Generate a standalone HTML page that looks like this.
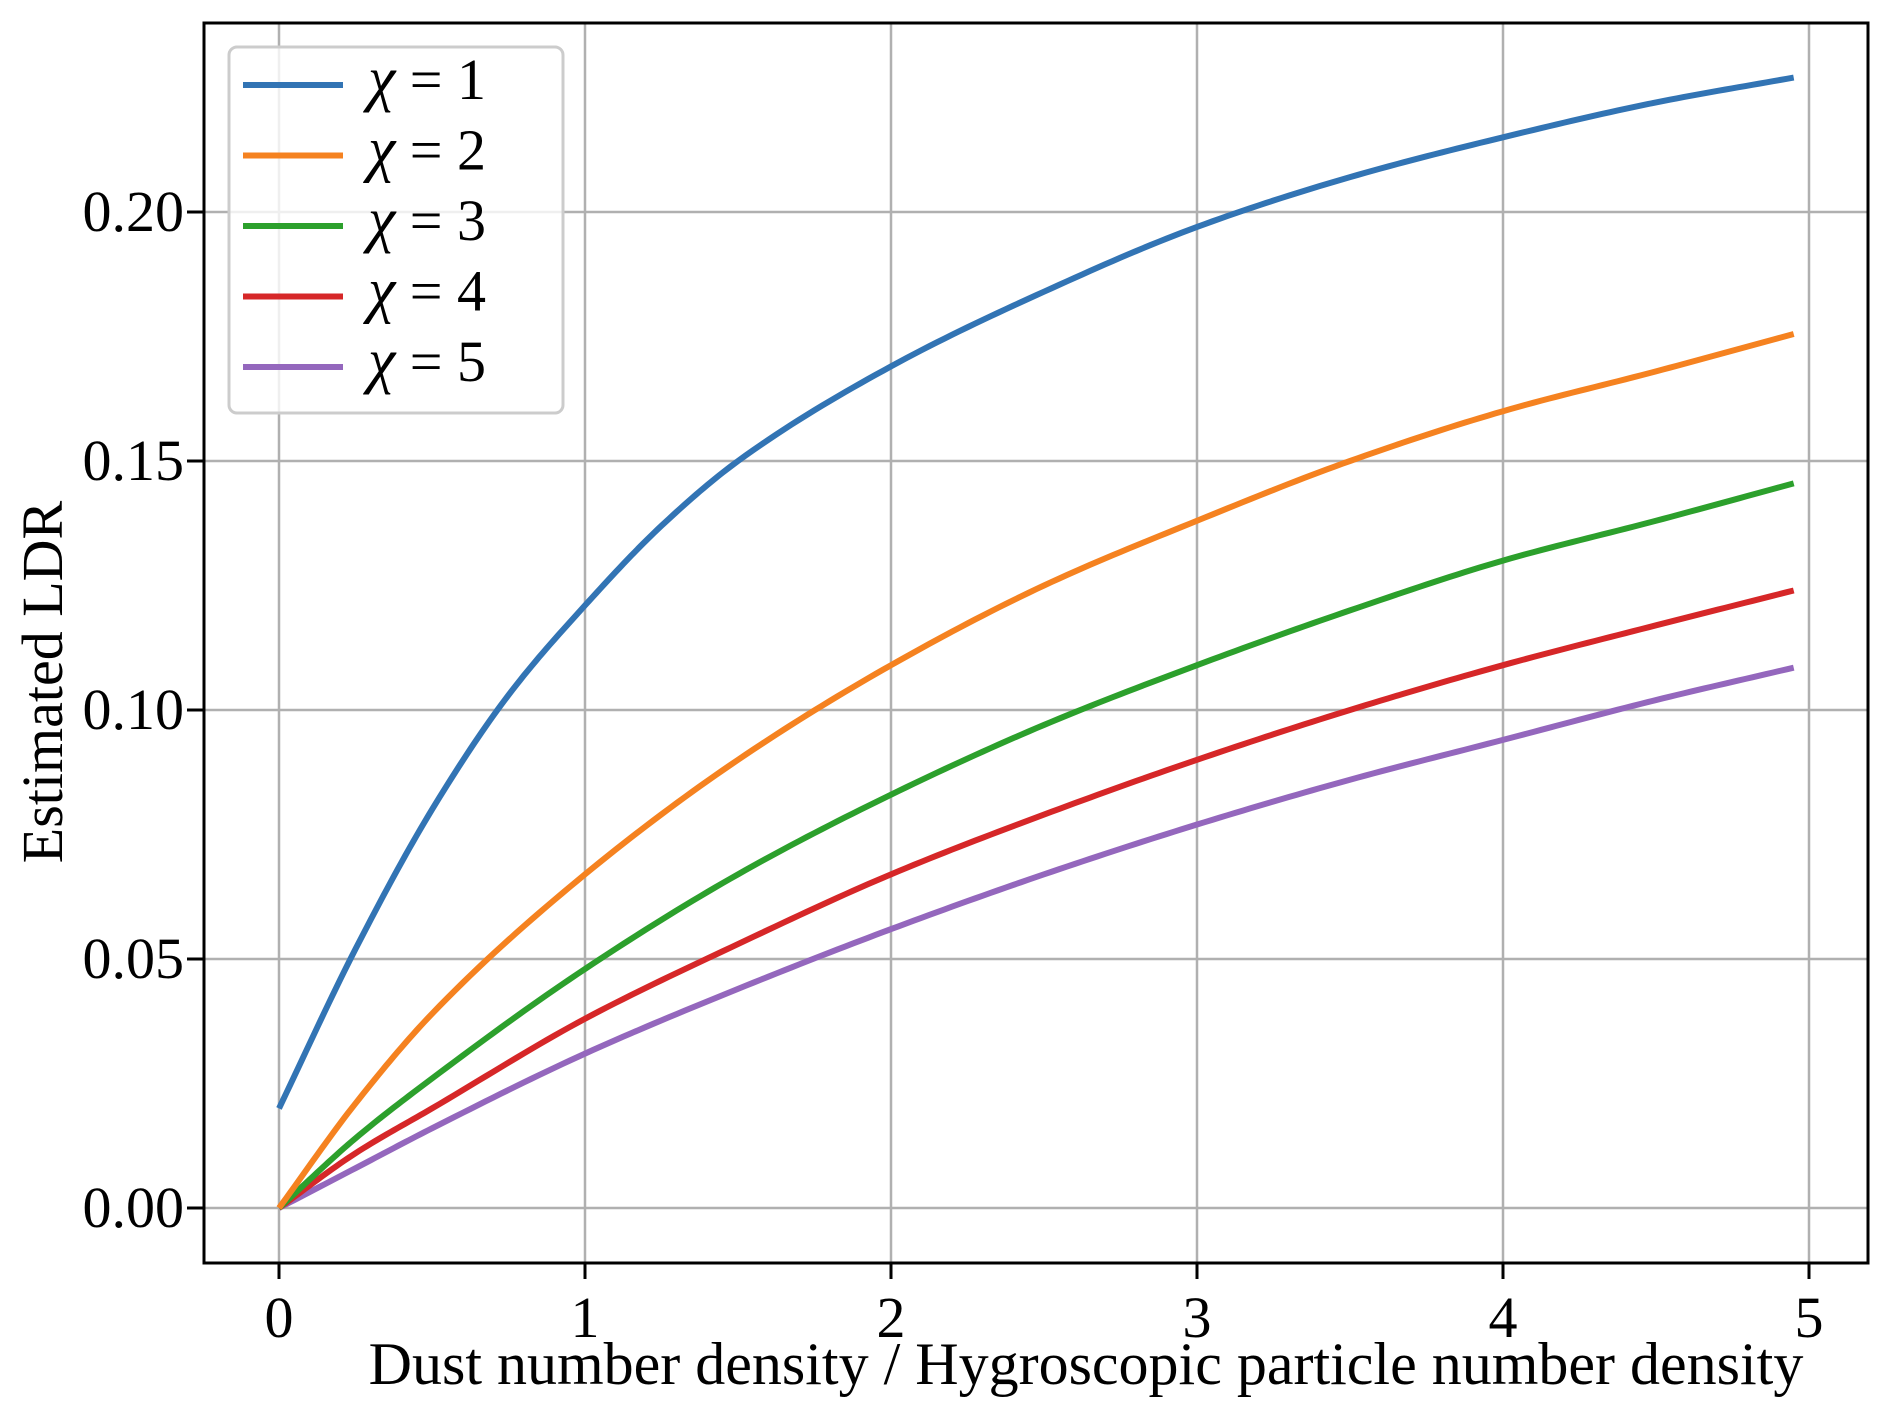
<!DOCTYPE html>
<html><head><meta charset="utf-8"><style>
html,body{margin:0;padding:0;background:#fff}
svg{display:block}
text{font-family:"Liberation Serif",serif;fill:#000}
</style></head><body>
<svg id="chart" width="1892" height="1418" viewBox="0 0 1892 1418" xmlns="http://www.w3.org/2000/svg">
<g id="grid"></g>
<g id="lines"></g>
<rect x="204" y="23" width="1664" height="1240" fill="none" stroke="#000" stroke-width="3"/>
<g id="ticks"></g>
<text transform="translate(62,682) rotate(-90)" text-anchor="middle" font-size="58">Estimated LDR</text>
<text x="1086" y="1384" text-anchor="middle" font-size="60">Dust number density / Hygroscopic particle number density</text>
<g id="legend"></g>
</svg>
<script>
const xTicks=[0,1,2,3,4,5];
const yTicks=[0,0.05,0.10,0.15,0.20];
const yTickLabels=["0.00","0.05","0.10","0.15","0.20"];
const seriesNames=["χ = 1","χ = 2","χ = 3","χ = 4","χ = 5"];
const colors=["#3274b4","#f58220","#2ca02c","#d62728","#9467bd"];
const xBlue=[0,0.25,0.5,0.75,1,1.25,1.5,2,2.5,3,3.5,4,4.5,4.95];
const yBlue=[0.020,0.052,0.080,0.103,0.121,0.137,0.150,0.169,0.184,0.197,0.207,0.215,0.222,0.227];
const xCommon=[0,0.25,0.5,1,1.5,2,2.5,3,3.5,4,4.5,4.95];
const yOrange=[0,0.021,0.039,0.067,0.090,0.109,0.125,0.138,0.150,0.160,0.168,0.1755];
const yGreen=[0,0.014,0.026,0.048,0.067,0.083,0.097,0.109,0.120,0.130,0.138,0.1455];
const yRed=[0,0.011,0.020,0.038,0.053,0.067,0.079,0.090,0.100,0.109,0.117,0.124];
const yPurple=[0,0.008,0.016,0.031,0.044,0.056,0.067,0.077,0.086,0.094,0.102,0.1085];

const NS="http://www.w3.org/2000/svg";
const sx=v=>279+v*306;
const sy=v=>1208-v*(996/0.20);
function mk(tag,attrs,parent){const e=document.createElementNS(NS,tag);for(const k in attrs)e.setAttribute(k,attrs[k]);parent.appendChild(e);return e;}
const grid=document.getElementById('grid'),ticks=document.getElementById('ticks'),lines=document.getElementById('lines'),legend=document.getElementById('legend');
xTicks.forEach((t,i)=>{
  const g=mk('line',{x1:sx(t),x2:sx(t),y1:23,y2:1263,stroke:'#b0b0b0','stroke-width':2.5},grid);
  
  
  const tk=mk('line',{x1:sx(t),x2:sx(t),y1:1263,y2:1279,stroke:'#000','stroke-width':3},ticks);
  
  
  const lb=mk('text',{x:sx(t),y:1337,'text-anchor':'middle','font-size':58},ticks);
  lb.textContent=String(t);
  
  
});
yTicks.forEach((t,i)=>{
  const g=mk('line',{x1:204,x2:1868,y1:sy(t),y2:sy(t),stroke:'#b0b0b0','stroke-width':2.5},grid);
  
  
  const tk=mk('line',{x1:187,x2:204,y1:sy(t),y2:sy(t),stroke:'#000','stroke-width':3},ticks);
  
  
  const lb=mk('text',{x:184,y:sy(t)+19,'text-anchor':'end','font-size':58},ticks);
  lb.textContent=yTickLabels[i];
  
  
});
// monotone cubic (Fritsch-Carlson) in data space, sampled densely
function pathFor(xs,ys){
  const n=xs.length,d=[],m=new Array(n);
  for(let i=0;i<n-1;i++)d.push((ys[i+1]-ys[i])/(xs[i+1]-xs[i]));
  m[0]=d[0];m[n-1]=d[n-2];
  for(let i=1;i<n-1;i++){
    if(d[i-1]*d[i]<=0)m[i]=0;
    else{const h0=xs[i]-xs[i-1],h1=xs[i+1]-xs[i];const w1=2*h1+h0,w2=h1+2*h0;m[i]=(w1+w2)/(w1/d[i-1]+w2/d[i]);}
  }
  let s='M'+sx(xs[0])+','+sy(ys[0]);
  for(let i=0;i<n-1;i++){
    const h=xs[i+1]-xs[i];
    for(let k=1;k<=20;k++){
      const t=k/20,t2=t*t,t3=t2*t;
      const y=(2*t3-3*t2+1)*ys[i]+(t3-2*t2+t)*h*m[i]+(-2*t3+3*t2)*ys[i+1]+(t3-t2)*h*m[i+1];
      s+=' L'+sx(xs[i]+t*h).toFixed(2)+','+sy(y).toFixed(2);
    }
  }
  return s;
}
const series=[[xBlue,yBlue],[xCommon,yOrange],[xCommon,yGreen],[xCommon,yRed],[xCommon,yPurple]];
series.slice().reverse().forEach((s,ri)=>{
  const i=series.length-1-ri;
  const p=mk('path',{d:pathFor(s[0],s[1]),fill:'none',stroke:colors[i],'stroke-width':6,'stroke-linejoin':'round'},lines);
  
  
});
const box=mk('rect',{x:229,y:47,width:334,height:366,rx:8,fill:'rgba(255,255,255,0.8)',stroke:'#cccccc','stroke-width':3},legend);


seriesNames.forEach((n,i)=>{
  const y=85+i*70.5;
  const l=mk('line',{x1:243,x2:343,y1:y,y2:y,stroke:colors[i],'stroke-width':6},legend);
  
  
  const t=mk('text',{x:368,y:y+14,'font-size':58},legend);
  t.innerHTML='<tspan font-style="italic" font-size="62">χ</tspan> = '+(i+1);
  
  
});
</script>
</body></html>
